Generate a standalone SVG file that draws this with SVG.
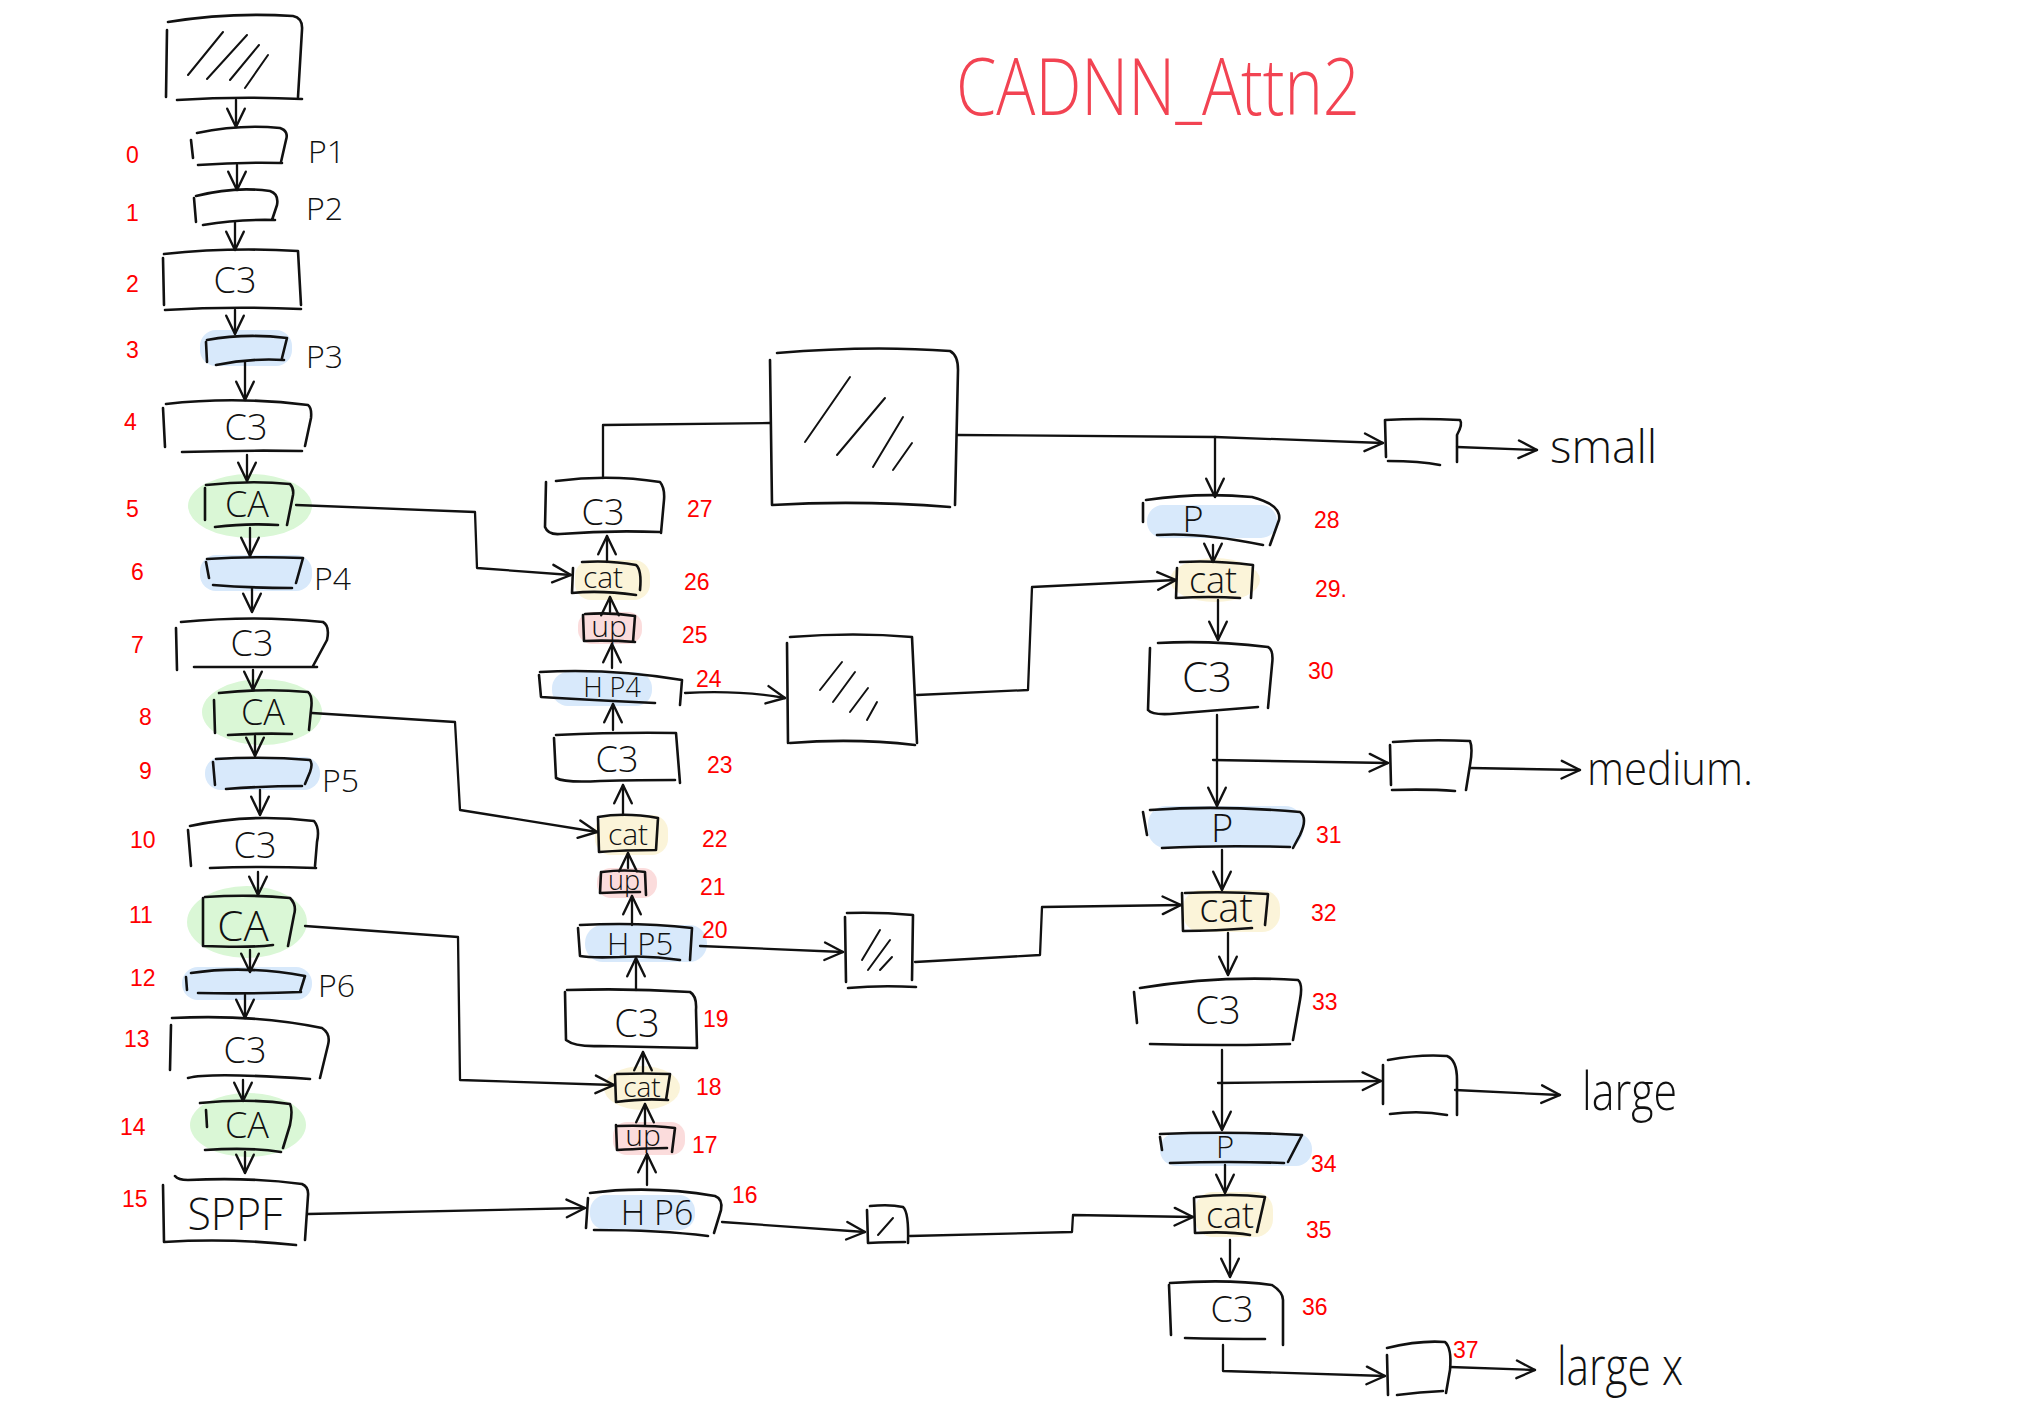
<svg xmlns="http://www.w3.org/2000/svg" width="2040" height="1407" viewBox="0 0 2040 1407">
<defs>
<marker id="ah" viewBox="0 0 12 12" refX="11" refY="6" markerWidth="22" markerHeight="22" markerUnits="userSpaceOnUse" orient="auto">
<path d="M1,1.2 L11,6 L1,10.8" fill="none" stroke="#111" stroke-width="1.3" stroke-linecap="round" stroke-linejoin="round"/>
</marker>
</defs>
<style>
.bx{fill:none;stroke:#111;stroke-width:2.6;stroke-linecap:round;stroke-linejoin:round}
.ht{fill:none;stroke:#111;stroke-width:2;stroke-linecap:round}
.cn{fill:none;stroke:#111;stroke-width:2.3;stroke-linecap:round;stroke-linejoin:round;marker-end:url(#ah)}
.ln{fill:none;stroke:#111;stroke-width:2.3;stroke-linecap:round;stroke-linejoin:round}
.blue{fill:#d8e9fb}
.green{fill:#daf7d6}
.yellow{fill:#fbf4d9}
.pink{fill:#fbdcdc}
.lb{font-family:"Open Sans","Liberation Sans",Arial,sans-serif;font-weight:300;fill:#111;text-anchor:middle}
.side{font-family:"Open Sans","Liberation Sans",Arial,sans-serif;font-weight:300;fill:#111;font-size:32px}
.num{font-family:"Liberation Sans",Arial,sans-serif;fill:#f00;font-size:23px}
.out{font-family:"Open Sans","Liberation Sans",Arial,sans-serif;font-weight:300;fill:#111}
</style>
<rect width="2040" height="1407" fill="#fff"/>
<text x="956" y="115" font-family="'Open Sans','Liberation Sans',Arial,sans-serif" font-weight="300" font-size="80" fill="#f24352" textLength="404" lengthAdjust="spacingAndGlyphs">CADNN_Attn2</text>

<g id="input">
<path class="bx" d="M167,30 L166,97 M168,22 Q230,12 293,16 Q303,18 302,30 L298,97 M177,100 Q240,96 302,99"/>
<path class="ht" d="M188,75 L223,32 M207,79 L247,35 M230,80 L259,45 M245,88 L268,55"/>
</g>
<g id="n0"><path class="bx" d="M191,140 L193,158 M197,133 Q240,124 280,128 Q289,131 286,140 L281,162 M198,165 Q240,162 282,163"/><text class="side" x="308" y="163">P1</text><text class="num" x="126" y="163">0</text></g>
<g id="n1"><path class="bx" d="M194,198 L196,222 M196,196 Q235,186 270,191 Q279,194 277,205 L272,220 M203,225 Q240,219 275,220"/><text class="side" x="306" y="220">P2</text><text class="num" x="126" y="221">1</text></g>
<g id="n2"><path class="bx" d="M163,258 L164,305 M164,254 Q230,247 298,251 L301,305 M165,310 Q230,306 301,309"/><text class="lb" x="235" y="293" font-size="36">C3</text><text class="num" x="126" y="292">2</text></g>
<g id="n3"><rect class="blue" x="200" y="330" width="92" height="36" rx="16"/><path class="bx" d="M206,342 L207,362 M207,340 Q245,333 287,338 L282,358 M216,365 Q250,358 284,360"/><text class="side" x="306" y="368">P3</text><text class="num" x="126" y="358">3</text></g>
<g id="n4"><path class="bx" d="M163,408 L165,447 M166,404 Q235,396 308,405 Q312,408 311,418 L305,446 M182,452 Q245,450 302,451"/><text class="lb" x="246" y="440" font-size="36">C3</text><text class="num" x="124" y="430">4</text></g>
<g id="n5"><ellipse class="green" cx="250" cy="506" rx="62" ry="32"/><path class="bx" d="M205,488 L205,520 M206,485 Q250,480 290,484 Q294,488 293,495 L287,525 M215,527 Q250,523 278,525"/><text class="lb" x="247" y="517" font-size="36">CA</text><text class="num" x="126" y="517">5</text></g>
<g id="n6"><rect class="blue" x="200" y="555" width="112" height="36" rx="16"/><path class="bx" d="M206,562 L209,578 M207,559 Q255,556 303,558 L296,583 M213,585 Q250,588 292,588"/><text class="side" x="314" y="590">P4</text><text class="num" x="131" y="580">6</text></g>
<g id="n7"><path class="bx" d="M176,628 L177,670 M181,622 Q255,615 323,622 Q330,626 327,640 L313,666 M194,667 Q255,667 317,667"/><text class="lb" x="252" y="656" font-size="36">C3</text><text class="num" x="131" y="653">7</text></g>
<g id="n8"><ellipse class="green" cx="262" cy="712" rx="60" ry="33"/><path class="bx" d="M214,700 L215,733 M219,693 Q265,688 308,692 Q313,696 311,710 L309,730 M228,735 Q262,733 292,734"/><text class="lb" x="263" y="725" font-size="36">CA</text><text class="num" x="139" y="725">8</text></g>
<g id="n9"><rect class="blue" x="205" y="757" width="115" height="33" rx="16"/><path class="bx" d="M213,762 L215,785 M216,759 Q265,756 310,760 Q313,764 310,772 L305,784 M226,789 Q265,786 302,786"/><text class="side" x="322" y="792">P5</text><text class="num" x="139" y="779" font-size="17">9</text></g>
<g id="n10"><path class="bx" d="M188,830 L191,866 M190,826 Q250,813 314,821 Q320,828 317,842 L315,866 M210,868 Q260,866 316,868"/><text class="lb" x="255" y="858" font-size="36">C3</text><text class="num" x="130" y="848" font-size="19">10</text></g>
<g id="n11"><ellipse class="green" cx="247" cy="922" rx="60" ry="36"/><path class="bx" d="M203,898 L203,946 Q250,948 273,945 M205,897 Q250,894 290,898 Q297,905 294,915 L288,946"/><text class="lb" x="243" y="941" font-size="42">CA</text><text class="num" x="129" y="923" font-size="19">11</text></g>
<g id="n12"><rect class="blue" x="182" y="967" width="130" height="33" rx="16"/><path class="bx" d="M186,977 L187,990 M191,973 Q245,965 305,976 L300,992 M198,993 Q250,994 301,992"/><text class="side" x="318" y="997">P6</text><text class="num" x="130" y="986" font-size="19">12</text></g>
<g id="n13"><path class="bx" d="M171,1025 L170,1070 M172,1018 Q255,1014 322,1028 Q331,1034 328,1045 L320,1078 M188,1078 Q210,1072 310,1079"/><text class="lb" x="245" y="1063" font-size="36">C3</text><text class="num" x="124" y="1047">13</text></g>
<g id="n14"><ellipse class="green" cx="248" cy="1125" rx="58" ry="32"/><path class="bx" d="M206,1110 L207,1127 M200,1103 Q250,1098 290,1104 Q293,1110 290,1125 L283,1148 M205,1150 Q250,1147 281,1152"/><text class="lb" x="247" y="1138" font-size="36">CA</text><text class="num" x="120" y="1135">14</text></g>
<g id="n15"><path class="bx" d="M163,1185 L164,1242 Q230,1238 296,1245 M175,1176 Q178,1180 188,1180 Q250,1177 302,1184 Q309,1187 308,1196 L305,1240"/><text class="lb" x="235" y="1230" font-size="44" textLength="95" lengthAdjust="spacingAndGlyphs">SPPF</text><text class="num" x="122" y="1207">15</text></g>

<g id="n16"><rect class="blue" x="590" y="1195" width="105" height="35" rx="16"/><path class="bx" d="M588,1198 L586,1228 M590,1193 Q650,1185 715,1196 Q723,1199 721,1210 L714,1233 M594,1230 Q660,1230 708,1236"/><text class="lb" x="657" y="1225" font-size="34">H P6</text><text class="num" x="732" y="1203" font-size="19">16</text></g>
<g id="n17"><rect class="pink" x="613" y="1122" width="72" height="33" rx="14"/><path class="bx" d="M616,1125 L617,1150 Q650,1148 667,1148 M617,1126 Q650,1125 675,1128 L672,1152"/><text class="lb" x="643" y="1146" font-size="30">up</text><text class="num" x="692" y="1153">17</text></g>
<g id="n18"><ellipse class="yellow" cx="642" cy="1088" rx="38" ry="22"/><path class="bx" d="M615,1075 L616,1102 Q645,1098 668,1100 M617,1074 Q645,1073 670,1074 L666,1100"/><text class="lb" x="642" y="1097" font-size="28">cat</text><text class="num" x="696" y="1095">18</text></g>
<g id="n19"><path class="bx" d="M565,992 L566,1040 Q575,1047 600,1046 Q650,1047 697,1048 M567,990 Q630,988 690,992 Q697,996 696,1010 L697,1048"/><text class="lb" x="637" y="1037" font-size="38">C3</text><text class="num" x="703" y="1027">19</text></g>
<g id="n20"><rect class="blue" x="585" y="925" width="122" height="37" rx="18"/><path class="bx" d="M578,928 L580,956 Q590,958 620,957 M580,925 Q640,922 692,928 L690,960 M620,957 Q650,955 680,960"/><text class="lb" x="640" y="955" font-size="31">H P5</text><text class="num" x="702" y="938" font-size="19">20</text></g>
<g id="n21"><rect class="pink" x="597" y="868" width="60" height="30" rx="14"/><path class="bx" d="M601,872 L600,893 Q620,892 640,892 M602,872 Q625,869 645,872 L646,895"/><text class="lb" x="624" y="890" font-size="27">up</text><text class="num" x="700" y="895" font-size="19">21</text></g>
<g id="n22"><rect class="yellow" x="595" y="815" width="73" height="40" rx="16"/><path class="bx" d="M598,818 L599,852 Q625,850 656,850 M598,817 Q625,812 658,818 L656,850"/><text class="lb" x="628" y="845" font-size="30">cat</text><text class="num" x="702" y="847" font-size="19">22</text></g>
<g id="n23"><path class="bx" d="M554,738 L556,778 Q565,783 600,781 Q640,780 675,780 M556,735 Q620,732 676,733 L680,783"/><text class="lb" x="617" y="772" font-size="36">C3</text><text class="num" x="707" y="773">23</text></g>
<g id="n24"><rect class="blue" x="552" y="672" width="100" height="34" rx="16"/><path class="bx" d="M539,675 L541,697 Q590,700 655,703 M540,672 Q610,668 682,680 L680,705"/><text class="lb" x="612" y="697" font-size="27">H P4</text><text class="num" x="696" y="687" font-size="19">24</text></g>
<g id="n25"><rect class="pink" x="578" y="612" width="64" height="32" rx="14"/><path class="bx" d="M583,615 L584,641 Q610,640 635,642 M585,614 Q612,612 635,616 L633,642"/><text class="lb" x="609" y="637" font-size="30">up</text><text class="num" x="682" y="643" font-size="19">25</text></g>
<g id="n26"><rect class="yellow" x="575" y="560" width="75" height="40" rx="16"/><path class="bx" d="M573,568 L572,593 Q600,590 636,595 M582,562 Q610,560 636,565 Q642,570 640,590"/><text class="lb" x="603" y="588" font-size="30">cat</text><text class="num" x="684" y="590" font-size="17">26</text></g>
<g id="n27"><path class="bx" d="M546,482 L545,527 Q548,535 560,534 Q610,530 660,532 M556,481 Q610,474 660,482 Q665,488 664,500 L661,533"/><text class="lb" x="603" y="525" font-size="36">C3</text><text class="num" x="687" y="517">27</text></g>

<g id="head_big">
<path class="bx" d="M770,360 L772,505 M777,353 Q870,345 950,351 Q958,355 958,370 L955,505 M772,505 Q860,500 950,507" stroke-width="3.4"/>
<path class="ht" d="M805,442 L850,377 M837,455 L885,398 M873,467 L903,417 M893,470 L912,443"/>
</g>
<g id="head_p4">
<path class="bx" d="M787,643 L788,743 M790,637 Q855,632 912,637 L917,743 M790,743 Q855,738 915,745"/>
<path class="ht" d="M820,690 L842,662 M833,702 L855,672 M850,712 L868,688 M867,720 L877,702"/>
</g>
<g id="head_p5">
<path class="bx" d="M845,917 L846,982 M847,913 Q880,912 913,915 L912,980 M848,988 Q880,985 916,987"/>
<path class="ht" d="M862,960 L880,930 M868,970 L890,940 M880,970 L892,957"/>
</g>
<g id="head_p6">
<path class="bx" d="M867,1210 L868,1243 Q890,1242 905,1242 M870,1206 Q890,1204 903,1207 Q909,1212 908,1243"/>
<path class="ht" d="M878,1235 L893,1218"/>
</g>

<g id="n28"><rect class="blue" x="1147" y="505" width="130" height="33" rx="16"/><path class="bx" d="M1143,503 L1143,522 M1146,500 Q1200,492 1252,497 Q1282,505 1279,520 L1270,545 M1157,535 Q1200,532 1263,545"/><text class="lb" x="1193" y="532" font-size="36">P</text><text class="num" x="1314" y="528">28</text></g>
<g id="n29"><ellipse class="yellow" cx="1215" cy="580" rx="45" ry="22"/><path class="bx" d="M1177,568 L1176,598 Q1210,596 1240,598 M1180,562 Q1215,560 1253,565 L1251,598"/><text class="lb" x="1213" y="593" font-size="36">cat</text><text class="num" x="1315" y="597">29.</text></g>
<g id="n30"><path class="bx" d="M1150,648 L1148,710 Q1152,715 1170,714 Q1220,710 1258,707 M1158,643 Q1210,640 1268,647 Q1274,650 1272,665 L1268,708"/><text class="lb" x="1207" y="692" font-size="42">C3</text><text class="num" x="1308" y="679">30</text></g>
<g id="n31"><rect class="blue" x="1148" y="806" width="155" height="42" rx="18"/><path class="bx" d="M1143,812 L1147,835 M1150,810 Q1220,805 1300,812 Q1308,818 1300,835 L1293,848 M1162,848 Q1220,845 1290,847"/><text class="lb" x="1222" y="842" font-size="38">P</text><text class="num" x="1316" y="843">31</text></g>
<g id="n32"><rect class="yellow" x="1183" y="890" width="97" height="42" rx="18"/><path class="bx" d="M1182,893 L1183,931 Q1215,931 1252,928 M1185,893 Q1225,891 1268,894 L1265,925"/><text class="lb" x="1226" y="922" font-size="40">cat</text><text class="num" x="1311" y="921">32</text></g>
<g id="n33"><path class="bx" d="M1134,992 L1137,1023 M1140,988 Q1220,975 1298,980 Q1303,984 1300,1000 L1293,1040 M1150,1044 Q1220,1046 1290,1044"/><text class="lb" x="1218" y="1024" font-size="38">C3</text><text class="num" x="1312" y="1010">33</text></g>
<g id="n34"><rect class="blue" x="1160" y="1133" width="152" height="33" rx="16"/><path class="bx" d="M1160,1137 L1162,1150 M1160,1134 Q1230,1131 1302,1135 L1288,1162 M1170,1163 Q1230,1161 1284,1163"/><text class="lb" x="1225" y="1158" font-size="31">P</text><text class="num" x="1311" y="1172" font-size="27">34</text></g>
<g id="n35"><rect class="yellow" x="1195" y="1192" width="78" height="45" rx="18"/><path class="bx" d="M1194,1198 L1195,1233 Q1230,1231 1250,1235 M1196,1197 Q1230,1193 1265,1197 L1257,1232"/><text class="lb" x="1230" y="1228" font-size="36">cat</text><text class="num" x="1306" y="1238">35</text></g>
<g id="n36"><path class="bx" d="M1169,1285 L1171,1335 M1170,1283 Q1230,1279 1272,1285 Q1283,1292 1283,1300 L1283,1345 M1185,1338 Q1220,1339 1265,1339"/><text class="lb" x="1232" y="1322" font-size="36">C3</text><text class="num" x="1302" y="1315">36</text></g>

<g id="out_small"><path class="bx" d="M1385,420 L1386,457 M1385,420 Q1420,418 1460,420 Q1463,424 1457,435 L1457,462 M1388,461 Q1420,461 1440,465"/><text class="out" x="1550" y="463" font-size="46">small</text></g>
<g id="out_medium"><path class="bx" d="M1390,745 L1391,785 M1393,742 Q1430,739 1470,741 Q1473,748 1470,765 L1466,790 M1392,790 Q1430,789 1455,791"/><text class="out" x="1587" y="785" font-size="46" textLength="166" lengthAdjust="spacingAndGlyphs">medium.</text></g>
<g id="out_large"><path class="bx" d="M1383,1065 L1383,1104 M1388,1060 Q1420,1054 1447,1056 Q1457,1060 1457,1080 L1457,1115 M1390,1114 Q1420,1110 1447,1115"/><text class="out" x="1582" y="1110" font-size="54" textLength="95" lengthAdjust="spacingAndGlyphs">large</text></g>
<g id="out_largex"><path class="bx" d="M1387,1355 L1388,1395 M1387,1348 Q1420,1340 1445,1342 Q1452,1348 1450,1370 L1446,1393 M1397,1395 Q1420,1392 1443,1391"/><text class="out" x="1557" y="1385" font-size="54" textLength="126" lengthAdjust="spacingAndGlyphs">large x</text><text class="num" x="1453" y="1358" font-size="27">37</text></g>

<g id="connectors">
<path class="cn" d="M236,100 L236,127"/>
<path class="cn" d="M237,165 L237,190"/>
<path class="cn" d="M235,222 L235,250"/>
<path class="cn" d="M235,310 L235,334"/>
<path class="cn" d="M245,362 L245,400"/>
<path class="cn" d="M247,455 L247,481"/>
<path class="cn" d="M250,528 L250,556"/>
<path class="cn" d="M252,588 L252,612"/>
<path class="cn" d="M253,670 L253,690"/>
<path class="cn" d="M255,736 L255,756"/>
<path class="cn" d="M260,790 L260,815"/>
<path class="cn" d="M258,872 L258,895"/>
<path class="cn" d="M250,950 L250,972"/>
<path class="cn" d="M245,995 L245,1018"/>
<path class="cn" d="M243,1080 L243,1101"/>
<path class="cn" d="M245,1152 L245,1173"/>

<path class="cn" d="M647,1185 L647,1154"/>
<path class="cn" d="M645,1125 L645,1104"/>
<path class="cn" d="M643,1072 L643,1052"/>
<path class="cn" d="M636,990 L636,958"/>
<path class="cn" d="M632,925 L632,896"/>
<path class="cn" d="M628,868 L628,853"/>
<path class="cn" d="M623,815 L623,785"/>
<path class="cn" d="M613,730 L613,704"/>
<path class="cn" d="M612,668 L612,644"/>
<path class="cn" d="M610,612 L610,597"/>
<path class="cn" d="M607,562 L607,536"/>

<path class="ln" d="M603,478 L603,425 L770,423"/>
<path class="cn" d="M957,435 L1215,437 L1383,443"/>
<path class="cn" d="M1215,437 L1215,497"/>
<path class="cn" d="M1213,545 L1213,562"/>
<path class="cn" d="M1218,600 L1218,640"/>
<path class="cn" d="M1217,715 L1217,806"/>
<path class="cn" d="M1213,760 L1388,763"/>
<path class="cn" d="M1222,850 L1222,890"/>
<path class="cn" d="M1228,933 L1228,975"/>
<path class="cn" d="M1222,1050 L1222,1130"/>
<path class="cn" d="M1218,1083 L1381,1081"/>
<path class="cn" d="M1225,1165 L1225,1193"/>
<path class="cn" d="M1230,1240 L1230,1277"/>
<path class="cn" d="M1223,1345 L1223,1371 L1385,1376"/>

<path class="cn" d="M1457,447 L1537,450"/>
<path class="cn" d="M1470,768 L1580,770"/>
<path class="cn" d="M1455,1090 L1560,1095"/>
<path class="cn" d="M1450,1367 L1535,1370"/>

<path class="cn" d="M685,693 Q740,690 785,698"/>
<path class="cn" d="M917,695 L1028,690 L1032,587 L1176,580"/>
<path class="cn" d="M700,946 L843,952"/>
<path class="cn" d="M915,962 L1040,955 L1042,907 L1181,905"/>
<path class="cn" d="M722,1222 L865,1232"/>
<path class="cn" d="M910,1236 L1072,1232 L1073,1215 L1193,1217"/>

<path class="cn" d="M296,505 L475,512 L477,568 L571,575"/>
<path class="cn" d="M312,713 L455,722 L460,810 L597,832"/>
<path class="cn" d="M305,926 L458,937 L460,1080 L614,1085"/>
<path class="cn" d="M308,1214 L585,1208"/>
</g>
</svg>
